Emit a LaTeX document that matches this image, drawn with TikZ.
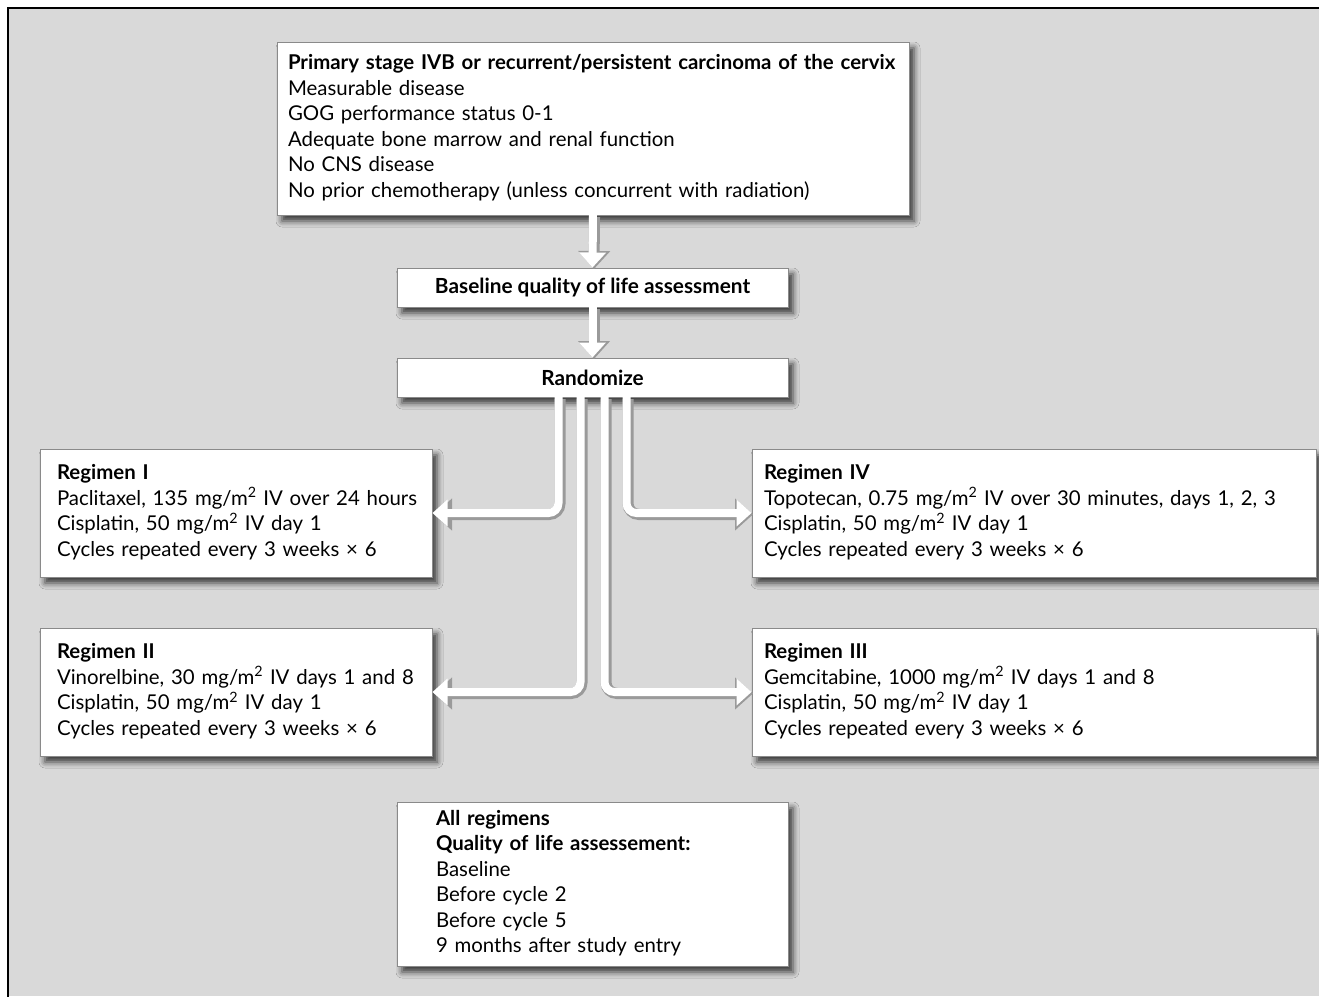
\documentclass[tikz,border=0pt]{standalone}
\usepackage{fontspec}
\setmainfont{Lato}
\usetikzlibrary{arrows.meta,shadows.blur}
\definecolor{bg}{HTML}{D9D9D9}
\definecolor{edge}{HTML}{8A8A8A}
\definecolor{pipeshadow}{HTML}{9A9A9A}
\newcommand{\sq}{\textsuperscript{2}}
\newcommand{\lines}[1]{\begin{tabular}{@{}l@{}}#1\end{tabular}}
\begin{document}
\begin{tikzpicture}[x=1pt,y=-1pt,
  box/.style={draw=edge, line width=1pt, fill=white,
    blur shadow={shadow xshift=5pt, shadow yshift=-6pt, shadow blur radius=6pt, shadow opacity=75},
    font=\fontsize{20.4}{25.5}\selectfont, inner ysep=0pt},
  smallbox/.style={box, minimum width=391pt, minimum height=39pt, font=\fontsize{20.8}{25.5}\selectfont\bfseries},
  regbox/.style={box, minimum height=128pt},
  pipe/.style={line width=8pt, draw=white, rounded corners=10pt, -{Triangle[width=26pt,length=15pt]}},
  pipeshade/.style={line width=11pt, draw=pipeshadow, rounded corners=11pt, -{Triangle[width=31pt,length=18pt]},
    transform canvas={xshift=1.5pt,yshift=-1.5pt}},
]
\useasboundingbox (0,0) rectangle (1319,996);
\fill[bg] (8,8) rectangle (1319,996);
\draw[line width=2.5pt, line cap=rect] (1319,8) -- (8,8) -- (8,996);

\node[box, minimum width=632pt, minimum height=173pt, inner xsep=11pt, text width=610pt] (elig) at (593,128.5)
  {\lines{\textbf{Primary stage IVB or recurrent/persistent carcinoma of the cervix}\\
  Measurable disease\\ GOG performance status 0-1\\ Adequate bone marrow and renal function\\
  No CNS disease\\ No prior chemotherapy (unless concurrent with radiation)}};

\node[smallbox] (base) at (592.5,287.5) {Baseline quality of life assessment};
\node[smallbox] (rand) at (592.5,377.5) {Randomize};

\node[regbox, minimum width=392pt, inner xsep=17pt, text width=358pt] (r1) at (236,513)
  {\lines{\textbf{Regimen I}\\ Paclitaxel, 135 mg/m\sq{} IV over 24 hours\\ Cisplatin, 50 mg/m\sq{} IV day 1\\ Cycles repeated every 3 weeks × 6}};
\node[regbox, minimum width=392pt, inner xsep=17pt, text width=358pt] (r2) at (236,692)
  {\lines{\textbf{Regimen II}\\ Vinorelbine, 30 mg/m\sq{} IV days 1 and 8\\ Cisplatin, 50 mg/m\sq{} IV day 1\\ Cycles repeated every 3 weeks × 6}};
\node[regbox, minimum width=564pt, inner xsep=12pt, text width=540pt] (r4) at (1034,513)
  {\lines{\textbf{Regimen IV}\\ Topotecan, 0.75 mg/m\sq{} IV over 30 minutes, days 1, 2, 3\\ Cisplatin, 50 mg/m\sq{} IV day 1\\ Cycles repeated every 3 weeks × 6}};
\node[regbox, minimum width=564pt, inner xsep=12pt, text width=540pt] (r3) at (1034,692)
  {\lines{\textbf{Regimen III}\\ Gemcitabine, 1000 mg/m\sq{} IV days 1 and 8\\ Cisplatin, 50 mg/m\sq{} IV day 1\\ Cycles repeated every 3 weeks × 6}};

\node[box, minimum width=391pt, minimum height=164pt, inner xsep=39pt, text width=313pt] (all) at (592.5,884)
  {\lines{\textbf{All regimens}\\ \textbf{Quality of life assessement:}\\ Baseline\\ Before cycle 2\\ Before cycle 5\\ 9 months after study entry}};

% shadows of the connectors
\draw[pipeshade] (elig.south) -- (base.north);
\draw[pipeshade] (base.south) -- (rand.north);
\draw[pipeshade] ([xshift=-34pt]rand.south) |- (r1.east);
\draw[pipeshade] ([xshift=-12pt]rand.south) |- (r2.east);
\draw[pipeshade] ([xshift=12pt]rand.south) |- (r3.west);
\draw[pipeshade] ([xshift=34pt]rand.south) |- (r4.west);
% connectors
\draw[pipe] ([yshift=1pt]elig.south) -- (base.north);
\draw[pipe] ([yshift=1pt]base.south) -- (rand.north);
\draw[pipe] ([xshift=-34pt,yshift=1pt]rand.south) |- (r1.east);
\draw[pipe] ([xshift=-12pt,yshift=1pt]rand.south) |- (r2.east);
\draw[pipe] ([xshift=12pt,yshift=1pt]rand.south) |- (r3.west);
\draw[pipe] ([xshift=34pt,yshift=1pt]rand.south) |- (r4.west);
\end{tikzpicture}
\end{document}
